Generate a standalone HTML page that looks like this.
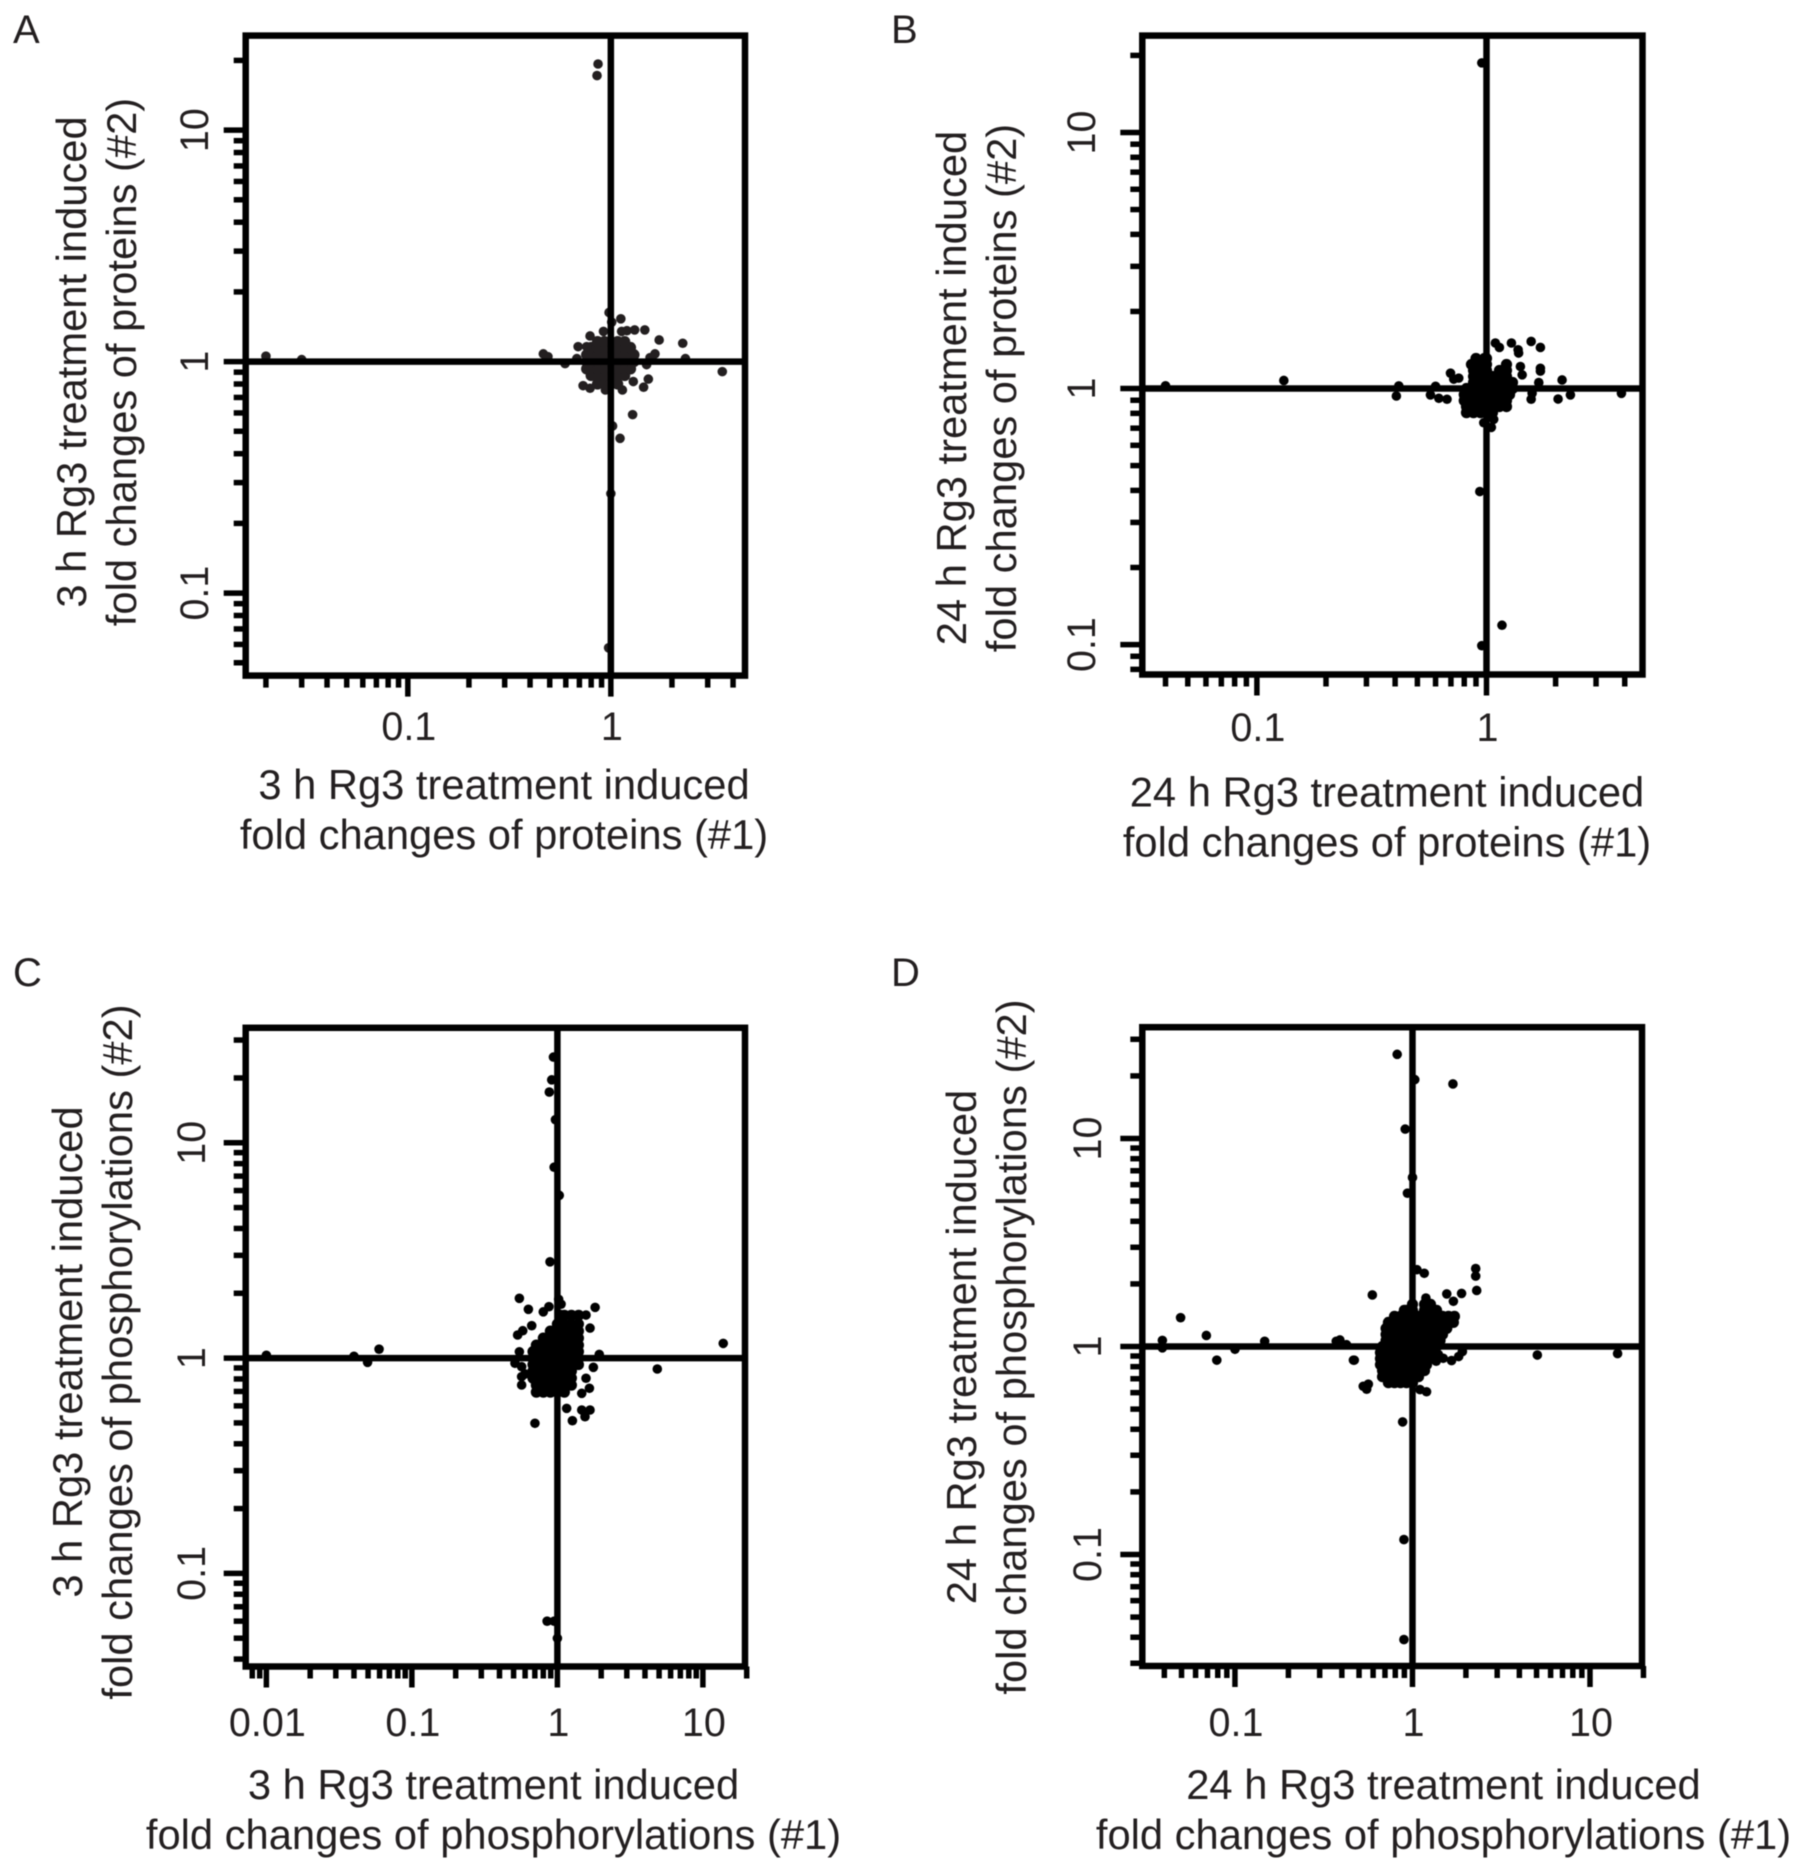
<!DOCTYPE html>
<html lang="en">
<head>
<meta charset="utf-8">
<title>Rg3 treatment fold change scatter plots</title>
<style>
html,body{margin:0;padding:0;background:#fff;}
svg{display:block;filter:blur(0.6px);}
text{font-family:"Liberation Sans",Arial,sans-serif;fill:#231f20;}
</style>
</head>
<body>
<svg id="fig" xmlns="http://www.w3.org/2000/svg" width="1803" height="1870" viewBox="0 0 1803 1870"></svg>
<script>
/* Panel A: 3 h proteins */
const xDomainA = [0.0159, 4.58];
const yDomainA = [0.044, 25.6];
const xMajorA = [0.1, 1];
const xLabelsA = ['0.1', '1'];
const yMajorA = [0.1, 1, 10];
const yLabelsA = ['0.1', '1', '10'];
const coreA = [
[.86,.8],[.93,.8],[1,.8],[1.08,.8],
[.8,.87],[.86,.87],[.93,.87],[1,.87],[1.08,.87],[1.17,.87],
[.76,.93],[.8,.93],[.86,.93],[.93,.93],[1,.93],[1.08,.93],[1.17,.93],[1.25,.93],
[.76,1],[.8,1],[.86,1],[.93,1],[1,1],[1.08,1],[1.17,1],[1.25,1],[1.3,1],
[.76,1.07],[.8,1.07],[.86,1.07],[.93,1.07],[1,1.07],[1.08,1.07],[1.17,1.07],[1.25,1.07],[1.3,1.07],
[.8,1.15],[.86,1.15],[.93,1.15],[1,1.15],[1.08,1.15],[1.17,1.15],[1.25,1.15],
[.86,1.22],[.93,1.22],[1,1.22],[1.08,1.22],[1.17,1.22]
];
const outliersA = [
[.98,1.63],[1.12,1.53],[1.01,1.48],[1.47,1.37],[1.31,1.37],[1.2,1.36],[1.13,1.35],[.92,1.35],[.79,1.29],
[1.73,1.24],[2.26,1.2],[.69,1.16],[.76,1.16],[1.65,1.08],[.465,1.08],[.49,1.05],[.68,1.03],[.595,.98],
[1.56,1.04],[1.5,.97],[2.33,1.03],[3.54,.905],[1.53,.84],[1.45,.775],[1.28,.59],[1.02,.527],[1.11,.466],
[.73,.787],[.79,.767],[.94,.754],[1.14,.754],[1.29,.82],[.02,1.055],[.03,1.02],[.865,19.3],[.855,17.2],
[1,.269],[.975,.058]
];

/* Panel B: 24 h proteins */
const xDomainB = [0.03169, 4.78];
const yDomainB = [0.0764, 23.9];
const xMajorB = [0.1, 1];
const xLabelsB = ['0.1', '1'];
const yMajorB = [0.1, 1, 10];
const yLabelsB = ['0.1', '1', '10'];
const coreB = [
[.818,.805],[.878,.805],[.942,.805],[1,.805],[1.062,.805],
[.818,.85],[.878,.85],[.942,.85],[1,.85],[1.062,.85],[1.139,.85],[1.222,.85],
[.8,.897],[.818,.897],[.878,.897],[.942,.897],[1,.897],[1.062,.897],[1.139,.897],[1.222,.897],
[.8,.947],[.818,.947],[.878,.947],[.942,.947],[1,.947],[1.062,.947],[1.139,.947],[1.222,.947],[1.26,.947],
[.818,1],[.878,1],[.942,1],[1,1],[1.062,1],[1.139,1],[1.222,1],[1.298,1],
[.878,1.056],[.942,1.056],[1,1.056],[1.062,1.056],[1.139,1.056],[1.222,1.056],[1.298,1.056],
[.878,1.115],[.942,1.115],[1,1.115],[1.062,1.115],[1.139,1.115],[1.222,1.115],
[.878,1.176],[.942,1.176],[1,1.176],[1.139,1.176],[1.222,1.176],
[.86,1.242],[.942,1.242],[1,1.242],[1.222,1.242],
[.9,1.311],[.98,1.311],[1,1.311]
];
const outliersB = [
[1.565,1.527],[1.717,1.447],[1.284,1.506],[1.373,1.417],[1.093,1.506],[1.138,1.447],[1.38,1.376],[1.717,1.2],
[1.717,1.17],[1.689,1.055],[2.134,1.08],[2.32,.944],[2.05,.91],[1.565,.908],[1.58,.958],[3.87,.958],[1.405,1.219],
[1.43,1.131],[.697,1.148],[.757,1.098],[.72,1.088],[.6,1.02],[.57,.944],[.62,.916],[.673,.908],[.415,1.024],
[.405,.935],[.973,.735],[1.05,.705],[1.075,.758],[.85,.81],[.935,.396],[.131,1.075],[.04,1.025],[.954,18.7],
[.954,.099],[1.168,.119]
];

/* Panel C: 3 h phosphorylations */
const xDomainC = [0.00721, 19.47];
const yDomainC = [0.03695, 34.2];
const xMajorC = [0.01, 0.1, 1, 10];
const xLabelsC = ['0.01', '0.1', '1', '10'];
const yMajorC = [0.1, 1, 10];
const yLabelsC = ['0.1', '1', '10'];
const coreC = [
[.717,.695],[.801,.695],[.895,.695],[1,.695],[1.117,.695],
[.717,.749],[.801,.749],[.895,.749],[1,.749],[1.117,.749],[1.248,.749],
[.68,.807],[.717,.807],[.801,.807],[.895,.807],[1,.807],[1.117,.807],[1.248,.807],
[.68,.87],[.717,.87],[.801,.87],[.895,.87],[1,.87],[1.117,.87],[1.248,.87],
[.68,.933],[.717,.933],[.801,.933],[.895,.933],[1,.933],[1.117,.933],[1.248,.933],[1.395,.933],
[.68,1],[.717,1],[.801,1],[.895,1],[1,1],[1.117,1],[1.248,1],[1.395,1],
[.68,1.072],[.717,1.072],[.801,1.072],[.895,1.072],[1,1.072],[1.117,1.072],[1.248,1.072],[1.395,1.072],
[.717,1.149],[.801,1.149],[.895,1.149],[1,1.149],[1.117,1.149],[1.248,1.149],[1.395,1.149],
[.801,1.238],[.895,1.238],[1,1.238],[1.117,1.238],[1.248,1.238],[1.395,1.238],
[.895,1.335],[1,1.335],[1.117,1.335],[1.248,1.335],[1.395,1.335],
[1,1.439],[1.117,1.439],[1.248,1.439],[1.395,1.439],
[1.05,1.58],[1.117,1.58],[1.248,1.58],[1.4,1.58]
];
const outliersC = [
[.548,1.895],[.632,1.685],[1.817,1.72],[.8,1.64],[.875,1.733],[1.06,1.78],[1.02,1.875],[1.573,1.585],[1.676,1.378],
[.666,1.414],[.578,1.34],[.533,1.28],[.548,1.07],[.511,.946],[.568,.912],[.599,.844],[.568,.82],[.568,.75],
[1.94,1.04],[1.767,.906],[1.573,.806],[1.66,.724],[1.47,.686],[1.676,.574],[1.548,.534],[1.47,.574],[1.268,.512],
[1.158,.584],[.701,.498],[4.86,.89],[13.8,1.17],[.0595,1.1],[.0496,.956],[.04,1.02],[.01,1.03],
[.94,25],[.914,19.6],[.88,17.2],[.97,12.8],[.95,7.7],[1.03,5.7],[.89,2.8],[.85,.06],[.95,.06],[1,.05]
];

/* Panel D: 24 h phosphorylations */
const xDomainD = [0.03006, 19.63];
const yDomainD = [0.0291, 34.3];
const xMajorD = [0.1, 1, 10];
const xLabelsD = ['0.1', '1', '10'];
const yMajorD = [0.1, 1, 10];
const yLabelsD = ['0.1', '1', '10'];
const coreD = [
[.732,.67],[.792,.67],[.856,.67],[.925,.67],[1,.67],
[.678,.716],[.732,.716],[.792,.716],[.856,.716],[.925,.716],[1,.716],[1.081,.716],
[.678,.766],[.732,.766],[.792,.766],[.856,.766],[.925,.766],[1,.766],[1.081,.766],[1.169,.766],
[.66,.818],[.732,.818],[.792,.818],[.856,.818],[.925,.818],[1,.818],[1.081,.818],[1.169,.818],[1.2,.818],
[.66,.875],[.732,.875],[.792,.875],[.856,.875],[.925,.875],[1,.875],[1.081,.875],[1.169,.875],[1.263,.875],
[.66,.935],[.732,.935],[.792,.935],[.856,.935],[.925,.935],[1,.935],[1.081,.935],[1.169,.935],[1.263,.935],
[.678,1],[.732,1],[.792,1],[.856,1],[.925,1],[1,1],[1.081,1],[1.169,1],[1.263,1],[1.366,1],
[.71,1.069],[.792,1.069],[.856,1.069],[.925,1.069],[1,1.069],[1.081,1.069],[1.169,1.069],[1.263,1.069],[1.366,1.069],[1.43,1.069],
[.71,1.143],[.792,1.143],[.856,1.143],[.925,1.143],[1,1.143],[1.081,1.143],[1.169,1.143],[1.263,1.143],[1.366,1.143],[1.476,1.143],
[.71,1.222],[.792,1.222],[.856,1.222],[.925,1.222],[1,1.222],[1.081,1.222],[1.169,1.222],[1.263,1.222],[1.366,1.222],[1.476,1.222],[1.56,1.222],
[.732,1.306],[.792,1.306],[.856,1.306],[.925,1.306],[1,1.306],[1.081,1.306],[1.169,1.306],[1.263,1.306],[1.366,1.306],[1.476,1.306],[1.595,1.306],[1.7,1.306],
[.792,1.396],[.856,1.396],[.925,1.396],[1,1.396],[1.081,1.396],[1.169,1.396],[1.263,1.396],[1.366,1.396],[1.476,1.396],[1.595,1.396],[1.723,1.396],
[.9,1.492],[.925,1.492],[1,1.492],[1.169,1.492],[1.263,1.492],[1.366,1.492],
[1,1.595],[1.169,1.595],[1.263,1.595]
];
const outliersD = [
[2.3,1.86],[2.27,2.18],[2.27,2.37],[1.165,2.25],[1.06,2.34],[.594,1.77],[1.89,1.8],[1.56,1.79],[1.7,1.65],[1.19,1.71],
[.47,.86],[.425,1.02],[.39,1.075],[.564,.659],[.552,.623],[.528,.644],[1.2,.606],[1.102,.621],[.88,.434],
[1.49,.878],[1.66,.856],[1.82,.895],[1.91,.945],[1.4,.915],[1.36,.85],[5.05,.91],[14.3,.925],[.0494,1.376],[.069,1.13],
[.039,1.07],[.039,.985],[.079,.86],[.1,.97],[.147,1.06],[.372,1.06],[.465,.86],[.82,25.4],[1.03,19.2],[1.69,18.3],
[.91,11.1],[1,6.5],[.937,5.46],[.895,.118],[.895,.039]
];

const NS = 'http://www.w3.org/2000/svg';
const svg = document.getElementById('fig');

function make(tag, parent, attrs) {
  const el = document.createElementNS(NS, tag);
  for (const k in attrs) { el.setAttribute(k, attrs[k]); }
  parent.appendChild(el);
  return el;
}
function logScale(domain, a, b) {
  const lo = Math.log10(domain[0]);
  const hi = Math.log10(domain[1]);
  return function (v) { return a + (Math.log10(v) - lo) / (hi - lo) * (b - a); };
}
function minorTicks(domain, majors) {
  const out = [];
  for (let e = -4; e <= 3; e++) {
    for (let m = 1; m <= 9; m++) {
      const v = m * Math.pow(10, e);
      if (v >= domain[0] && v <= domain[1] * 1.03 && majors.every(function (t) { return Math.abs(t - v) > t * 1e-6; })) { out.push(v); }
    }
  }
  return out;
}
function label(parent, name, str, x, y, size, rotate) {
  const t = make('text', parent, { x: x, y: y, 'font-size': size, 'text-anchor': 'middle' });
  if (rotate) { t.setAttribute('transform', 'rotate(-90 ' + x + ' ' + y + ')'); }
  
  
  t.textContent = str;
  return t;
}
function drawPanel(p) {
  const g = make('g', svg, {});
  
  

  const letter = make('text', g, { x: p.letterX, y: p.letterY, 'font-size': 40 });
  
  
  letter.textContent = p.id;

  const sx = logScale(p.xDomain, p.left, p.right);
  const sy = logScale(p.yDomain, p.bottom, p.top);
  const lw = 6.5, tw = 5.5;

  const ticks = make('g', g, { stroke: '#000', 'stroke-width': tw });
  
  
  minorTicks(p.xDomain, p.xMajor).forEach(function (v) {
    const l = make('line', ticks, { x1: sx(v), x2: sx(v), y1: p.bottom, y2: p.bottom + 12 });
    
    
  });
  p.xMajor.forEach(function (v) {
    const l = make('line', ticks, { x1: sx(v), x2: sx(v), y1: p.bottom, y2: p.bottom + 21 });
    
    
  });
  minorTicks(p.yDomain, p.yMajor).forEach(function (v) {
    const l = make('line', ticks, { x1: p.left, x2: p.left - 12, y1: sy(v), y2: sy(v) });
    
    
  });
  p.yMajor.forEach(function (v) {
    const l = make('line', ticks, { x1: p.left, x2: p.left - 22, y1: sy(v), y2: sy(v) });
    
    
  });

  const dots = make('g', g, { fill: p.dotColor });
  
  
  p.core.forEach(function (d) {
    const c = make('circle', dots, { cx: sx(d[0]), cy: sy(d[1]), r: 5.6 });
    
    
  });
  p.outliers.forEach(function (d) {
    const c = make('circle', dots, { cx: sx(d[0]), cy: sy(d[1]), r: 4.8 });
    
    
  });

  const v1 = make('line', g, { x1: sx(1), x2: sx(1), y1: p.top, y2: p.bottom, stroke: '#000', 'stroke-width': lw });
  
  
  const h1 = make('line', g, { x1: p.left, x2: p.right, y1: sy(1), y2: sy(1), stroke: '#000', 'stroke-width': lw });
  
  
  const frame = make('rect', g, { x: p.left, y: p.top, width: p.right - p.left, height: p.bottom - p.top, fill: 'none', stroke: '#000', 'stroke-width': lw });
  
  

  p.xMajor.forEach(function (v, i) {
    label(g, 'x-tick-label', p.xLabels[i], sx(v) + 1, p.xTickY, 39.5, false);
  });
  p.yMajor.forEach(function (v, i) {
    label(g, 'y-tick-label', p.yLabels[i], p.yTickX, sy(v), 39.5, true);
  });
  label(g, 'x-axis-title-line-1', p.title[0], p.xTitleX, p.xTitleY, 41.7, false);
  label(g, 'x-axis-title-line-2', p.title[1], p.xTitleX, p.xTitleY + 50, 41.7, false);
  label(g, 'y-axis-title-line-1', p.title[0], p.yTitleX, p.yTitleY, 41.7, true);
  label(g, 'y-axis-title-line-2', p.title[2], p.yTitleX + 50, p.yTitleY, 41.7, true);
}

drawPanel({
  id: 'A', letterX: 13, letterY: 43, left: 245.7, right: 745, top: 35.6, bottom: 675.6,
  xDomain: xDomainA, yDomain: yDomainA, xMajor: xMajorA, xLabels: xLabelsA, yMajor: yMajorA, yLabels: yLabelsA,
  core: coreA, outliers: outliersA, dotColor: '#231f20',
  xTickY: 740, yTickX: 208, xTitleX: 504, xTitleY: 799, yTitleX: 86, yTitleY: 362,
  title: ['3 h Rg3 treatment induced', 'fold changes of proteins (#1)', 'fold changes of proteins (#2)']
});
drawPanel({
  id: 'B', letterX: 891, letterY: 43, left: 1142.3, right: 1642.5, top: 35.6, bottom: 674.5,
  xDomain: xDomainB, yDomain: yDomainB, xMajor: xMajorB, xLabels: xLabelsB, yMajor: yMajorB, yLabels: yLabelsB,
  core: coreB, outliers: outliersB, dotColor: '#000',
  xTickY: 741, yTickX: 1095, xTitleX: 1387, xTitleY: 806.5, yTitleX: 966, yTitleY: 388,
  title: ['24 h Rg3 treatment induced', 'fold changes of proteins (#1)', 'fold changes of proteins (#2)']
});
drawPanel({
  id: 'C', letterX: 13, letterY: 986, left: 245.7, right: 745, top: 1027.8, bottom: 1666.5,
  xDomain: xDomainC, yDomain: yDomainC, xMajor: xMajorC, xLabels: xLabelsC, yMajor: yMajorC, yLabels: yLabelsC,
  core: coreC, outliers: outliersC, dotColor: '#000',
  xTickY: 1736, yTickX: 205, xTitleX: 493.5, xTitleY: 1799, yTitleX: 82, yTitleY: 1352,
  title: ['3 h Rg3 treatment induced', 'fold changes of phosphorylations (#1)', 'fold changes of phosphorylations (#2)']
});
drawPanel({
  id: 'D', letterX: 891, letterY: 986, left: 1142.3, right: 1642, top: 1027.2, bottom: 1666,
  xDomain: xDomainD, yDomain: yDomainD, xMajor: xMajorD, xLabels: xLabelsD, yMajor: yMajorD, yLabels: yLabelsD,
  core: coreD, outliers: outliersD, dotColor: '#000',
  xTickY: 1736, yTickX: 1101, xTitleX: 1443.5, xTitleY: 1799, yTitleX: 976, yTitleY: 1347,
  title: ['24 h Rg3 treatment induced', 'fold changes of phosphorylations (#1)', 'fold changes of phosphorylations (#2)']
});
</script>
</body>
</html>
